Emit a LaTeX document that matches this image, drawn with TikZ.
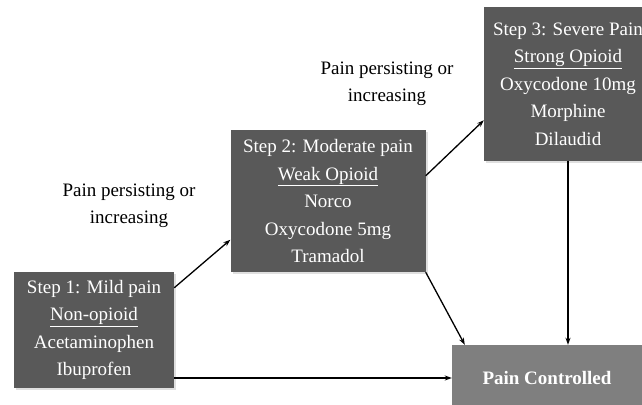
\documentclass[tikz,border=0pt]{standalone}
\usepackage{fontspec}
\setmainfont{Liberation Serif}
\usetikzlibrary{arrows.meta,calc,shadows}
\definecolor{boxdark}{HTML}{595959}
\definecolor{boxlight}{HTML}{7F7F7F}
\tikzset{
  stepbox/.style={draw=none, fill=boxdark, text=white, align=center, inner sep=0pt,
    font=\fontsize{19}{27.5}\selectfont,
    drop shadow={opacity=0.25, shadow xshift=2pt, shadow yshift=-2pt}},
  endbox/.style={draw=none, fill=boxlight, text=white, inner sep=0pt,
    font=\fontsize{19}{23}\selectfont\bfseries,
    drop shadow={opacity=0.25, shadow xshift=2pt, shadow yshift=-2pt}},
  lbl/.style={align=center, font=\fontsize{19}{27}\selectfont, inner sep=0pt},
  conn/.style={-{Stealth[length=7pt,width=5pt]}, line width=1.3pt, black}
}
\begin{document}
\begin{tikzpicture}[x=1pt,y=-1pt]
\useasboundingbox (0,0) rectangle (642,404);
\clip (0,0) rectangle (642,404);
\node[stepbox, minimum width=160pt, minimum height=116pt] (b1) at (94,330)
  {Step 1: Mild pain\\\underline{Non-opioid}\\Acetaminophen\\Ibuprofen};
\node[stepbox, minimum width=195pt, minimum height=142pt] (b2) at (328,201)
  {Step 2: Moderate pain\\\underline{Weak Opioid}\\Norco\\Oxycodone 5mg\\Tramadol};
\node[stepbox, minimum width=168pt, minimum height=153pt] (b3) at (568,84)
  {Step 3: Severe Pain\\\underline{Strong Opioid}\\Oxycodone 10mg\\Morphine\\Dilaudid};
\node[endbox, minimum width=190pt, minimum height=66pt] (b4) at (547,378)
  {Pain Controlled};
\node[lbl] (l1) at (129,206) {Pain persisting or\\increasing};
\node[lbl] (l2) at (387,84) {Pain persisting or\\increasing};
\draw[conn] ($(b1.north east)+(0,16)$) -- ($(b2.north west)+(0,110)$);
\draw[conn] ($(b2.north east)+(0,46)$) -- ($(b3.north west)+(0,113)$);
\draw[conn] (b2.south east) -- ($(b4.north west)+(13,0)$);
\draw[conn] (b3.south) -- (b3.south |- b4.north);
\draw[conn] (b1.east |- b4.west) -- (b4.west);
\end{tikzpicture}
\end{document}
